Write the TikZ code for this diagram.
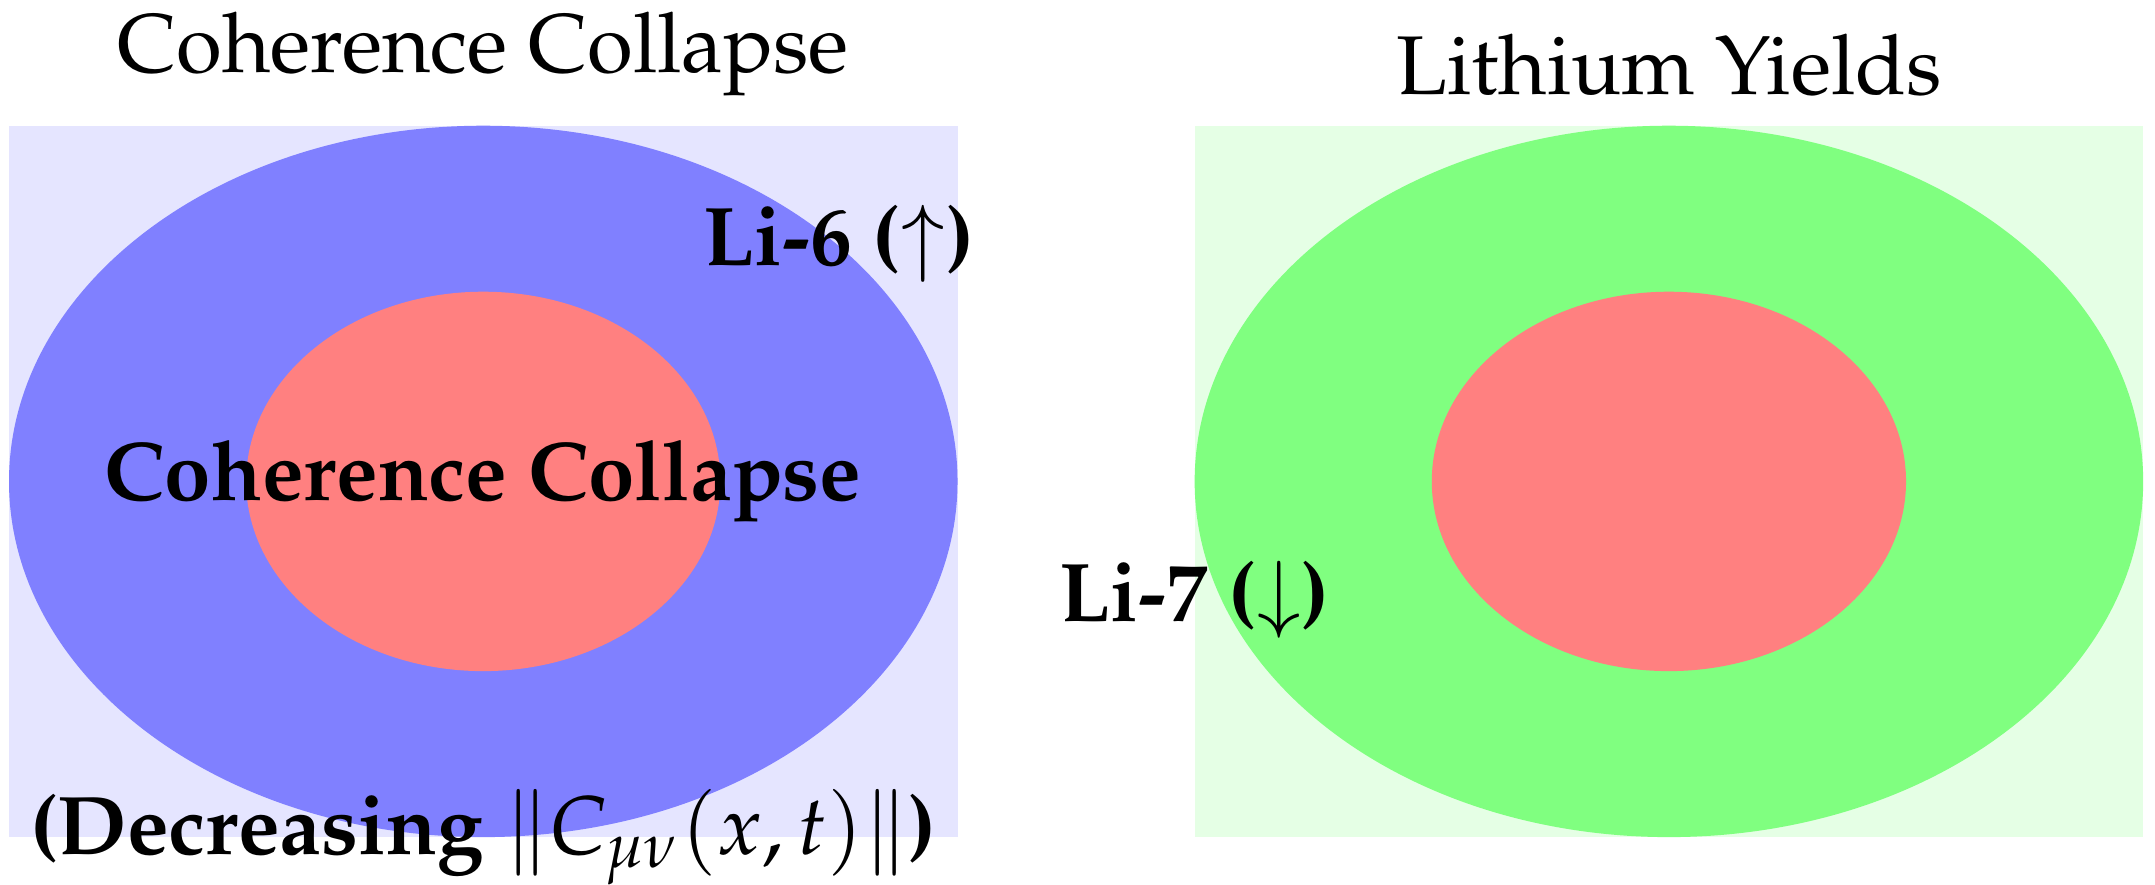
\documentclass[tikz,border=0pt]{standalone}
\usepackage[T1]{fontenc}
\usepackage{mathpazo}
\tikzset{
  bgrect/.style={inner sep=0pt},
  title/.style={above},
  lab/.style={font=\bfseries}
}
\begin{document}
\begin{tikzpicture}
\useasboundingbox (-2.038,-1.698) rectangle (7.05,2.03);
% left panel
\fill[blue!10] (-2,-1.5) rectangle (2,1.5);
\fill[blue!50] (0,0) ellipse [x radius=2, y radius=1.5];
\fill[red!50] (0,0) ellipse [x radius=1, y radius=0.8];
\node[title] (t1) at (0,1.5) {Coherence Collapse};
\node[lab] (c1) at (0,0) {Coherence Collapse};
\node[lab] (l6) at (1.5,1) {Li-6 ($\uparrow$)};
\node[lab] (d1) at (0,-1.5) {(Decreasing $\|C_{\mu\nu}(x,t)\|$)};
% right panel
\fill[green!10] (3,-1.5) rectangle (7,1.5);
\fill[green!50] (5,0) ellipse [x radius=2, y radius=1.5];
\fill[red!50] (5,0) ellipse [x radius=1, y radius=0.8];
\node[title] (t2) at (5,1.5) {Lithium Yields};
\node[lab] (l7) at (3,-0.5) {Li-7 ($\downarrow$)};
\end{tikzpicture}
\end{document}
